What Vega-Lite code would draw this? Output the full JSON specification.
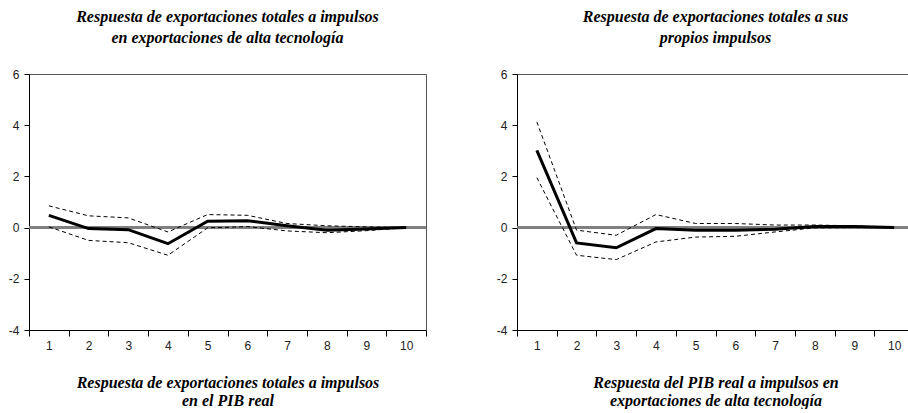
{
  "$schema": "https://vega.github.io/schema/vega-lite/v6.json",
  "padding": {"left": 7, "top": 8, "right": 0, "bottom": 0},
  "background": "white",
  "datasets": {
    "irf": [
      {"panel": "A", "x": 1, "series": "mid", "value": 0.48},
      {"panel": "A", "x": 2, "series": "mid", "value": -0.04},
      {"panel": "A", "x": 3, "series": "mid", "value": -0.08},
      {"panel": "A", "x": 4, "series": "mid", "value": -0.63},
      {"panel": "A", "x": 5, "series": "mid", "value": 0.25},
      {"panel": "A", "x": 6, "series": "mid", "value": 0.27},
      {"panel": "A", "x": 7, "series": "mid", "value": 0.07},
      {"panel": "A", "x": 8, "series": "mid", "value": -0.1},
      {"panel": "A", "x": 9, "series": "mid", "value": -0.05},
      {"panel": "A", "x": 10, "series": "mid", "value": 0.0},
      {"panel": "A", "x": 1, "series": "up", "value": 0.85},
      {"panel": "A", "x": 2, "series": "up", "value": 0.46},
      {"panel": "A", "x": 3, "series": "up", "value": 0.38},
      {"panel": "A", "x": 4, "series": "up", "value": -0.17},
      {"panel": "A", "x": 5, "series": "up", "value": 0.51},
      {"panel": "A", "x": 6, "series": "up", "value": 0.48},
      {"panel": "A", "x": 7, "series": "up", "value": 0.16},
      {"panel": "A", "x": 8, "series": "up", "value": 0.07},
      {"panel": "A", "x": 9, "series": "up", "value": 0.03},
      {"panel": "A", "x": 10, "series": "up", "value": 0.0},
      {"panel": "A", "x": 1, "series": "lo", "value": 0.03},
      {"panel": "A", "x": 2, "series": "lo", "value": -0.5},
      {"panel": "A", "x": 3, "series": "lo", "value": -0.59},
      {"panel": "A", "x": 4, "series": "lo", "value": -1.08},
      {"panel": "A", "x": 5, "series": "lo", "value": -0.01},
      {"panel": "A", "x": 6, "series": "lo", "value": 0.04},
      {"panel": "A", "x": 7, "series": "lo", "value": -0.13},
      {"panel": "A", "x": 8, "series": "lo", "value": -0.2},
      {"panel": "A", "x": 9, "series": "lo", "value": -0.12},
      {"panel": "A", "x": 10, "series": "lo", "value": 0.0},
      {"panel": "B", "x": 1, "series": "mid", "value": 3.02},
      {"panel": "B", "x": 2, "series": "mid", "value": -0.6},
      {"panel": "B", "x": 3, "series": "mid", "value": -0.79},
      {"panel": "B", "x": 4, "series": "mid", "value": -0.04},
      {"panel": "B", "x": 5, "series": "mid", "value": -0.1},
      {"panel": "B", "x": 6, "series": "mid", "value": -0.1},
      {"panel": "B", "x": 7, "series": "mid", "value": -0.06},
      {"panel": "B", "x": 8, "series": "mid", "value": 0.04},
      {"panel": "B", "x": 9, "series": "mid", "value": 0.04},
      {"panel": "B", "x": 10, "series": "mid", "value": 0.0},
      {"panel": "B", "x": 1, "series": "up", "value": 4.13},
      {"panel": "B", "x": 2, "series": "up", "value": -0.1},
      {"panel": "B", "x": 3, "series": "up", "value": -0.3},
      {"panel": "B", "x": 4, "series": "up", "value": 0.51},
      {"panel": "B", "x": 5, "series": "up", "value": 0.16},
      {"panel": "B", "x": 6, "series": "up", "value": 0.16},
      {"panel": "B", "x": 7, "series": "up", "value": 0.1},
      {"panel": "B", "x": 8, "series": "up", "value": 0.1},
      {"panel": "B", "x": 9, "series": "up", "value": 0.07},
      {"panel": "B", "x": 10, "series": "up", "value": 0.0},
      {"panel": "B", "x": 1, "series": "lo", "value": 1.95},
      {"panel": "B", "x": 2, "series": "lo", "value": -1.08},
      {"panel": "B", "x": 3, "series": "lo", "value": -1.25},
      {"panel": "B", "x": 4, "series": "lo", "value": -0.56},
      {"panel": "B", "x": 5, "series": "lo", "value": -0.37},
      {"panel": "B", "x": 6, "series": "lo", "value": -0.34},
      {"panel": "B", "x": 7, "series": "lo", "value": -0.17},
      {"panel": "B", "x": 8, "series": "lo", "value": -0.01},
      {"panel": "B", "x": 9, "series": "lo", "value": 0.0},
      {"panel": "B", "x": 10, "series": "lo", "value": 0.0}
    ]
  },
  "spacing": 91,
  "bounds": "flush",
  "config": {
    "view": {"stroke": "#555", "strokeWidth": 1},
    "axis": {
      "grid": false,
      "labelFont": "Liberation Sans",
      "labelFontSize": 12,
      "labelColor": "#222",
      "domainColor": "#000",
      "tickColor": "#000",
      "titleFont": "Liberation Serif",
      "titleFontStyle": "italic",
      "titleFontWeight": "bold",
      "titleFontSize": 16,
      "titleColor": "#000",
      "titleLineHeight": 18
    },
    "title": {
      "font": "Liberation Serif",
      "fontStyle": "italic",
      "fontWeight": "bold",
      "fontSize": 16,
      "lineHeight": 21,
      "color": "#000",
      "anchor": "middle",
      "frame": "group",
      "offset": 22
    }
  },
  "hconcat": [
    {
      "width": 397,
      "height": 256,
      "title": {"text": ["Respuesta de exportaciones totales a impulsos", "en exportaciones de alta tecnología"]},
      "data": {"name": "irf"},
      "transform": [{"filter": "datum.panel === 'A'"}],
      "layer": [
        {
          "mark": {"type": "rule", "color": "#808080", "strokeWidth": 1.5},
          "encoding": {"y": {"datum": 0, "type": "quantitative"}}
        },
        {
          "transform": [{"filter": "datum.series !== 'mid'"}],
          "mark": {"type": "line", "color": "#000", "strokeWidth": 1, "strokeDash": [4, 3]},
          "encoding": {
            "x": {"field": "x", "type": "ordinal", "bandPosition": 0.5, "scale": {"type": "band", "paddingInner": 0, "paddingOuter": 0},
              "axis": {"tickBand": "extent", "labelAngle": 0, "tickSize": 6, "labelPadding": 4,
                "title": ["Respuesta de exportaciones totales a impulsos", "en el PIB real"], "titlePadding": 23}},
            "y": {"field": "value", "type": "quantitative", "scale": {"domain": [-4, 6], "nice": false},
              "axis": {"values": [-4, -2, 0, 2, 4, 6], "labelExpr": "replace(datum.label, '−', '-')", "title": null, "tickSize": 5, "labelPadding": 5}},
            "detail": {"field": "series"}
          }
        },
        {
          "transform": [{"filter": "datum.series === 'mid'"}],
          "mark": {"type": "line", "color": "#000", "strokeWidth": 3},
          "encoding": {
            "x": {"field": "x", "type": "ordinal", "bandPosition": 0.5},
            "y": {"field": "value", "type": "quantitative"}
          }
        }
      ]
    },
    {
      "width": 397,
      "height": 256,
      "title": {"text": ["Respuesta de exportaciones totales a sus", "propios impulsos"]},
      "data": {"name": "irf"},
      "transform": [{"filter": "datum.panel === 'B'"}],
      "layer": [
        {
          "mark": {"type": "rule", "color": "#808080", "strokeWidth": 1.5},
          "encoding": {"y": {"datum": 0, "type": "quantitative"}}
        },
        {
          "transform": [{"filter": "datum.series !== 'mid'"}],
          "mark": {"type": "line", "color": "#000", "strokeWidth": 1, "strokeDash": [4, 3]},
          "encoding": {
            "x": {"field": "x", "type": "ordinal", "bandPosition": 0.5, "scale": {"type": "band", "paddingInner": 0, "paddingOuter": 0},
              "axis": {"tickBand": "extent", "labelAngle": 0, "tickSize": 6, "labelPadding": 4,
                "title": ["Respuesta del PIB real a impulsos en", "exportaciones de alta tecnología"], "titlePadding": 23}},
            "y": {"field": "value", "type": "quantitative", "scale": {"domain": [-4, 6], "nice": false},
              "axis": {"values": [-4, -2, 0, 2, 4, 6], "labelExpr": "replace(datum.label, '−', '-')", "title": null, "tickSize": 5, "labelPadding": 5}},
            "detail": {"field": "series"}
          }
        },
        {
          "transform": [{"filter": "datum.series === 'mid'"}],
          "mark": {"type": "line", "color": "#000", "strokeWidth": 3},
          "encoding": {
            "x": {"field": "x", "type": "ordinal", "bandPosition": 0.5},
            "y": {"field": "value", "type": "quantitative"}
          }
        }
      ]
    }
  ]
}
